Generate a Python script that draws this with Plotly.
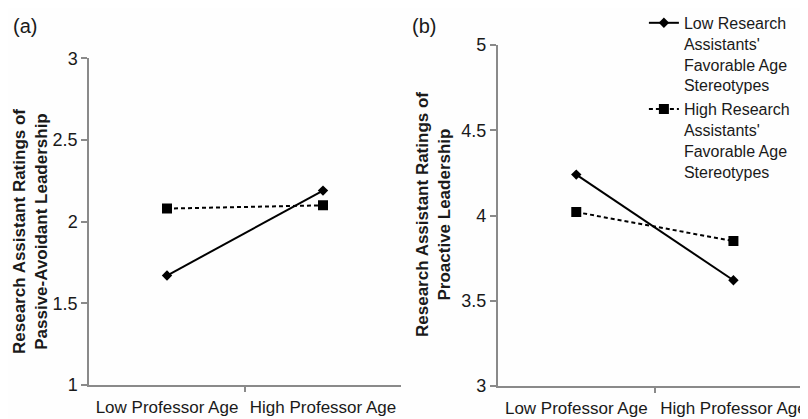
import plotly.graph_objects as go

categories = ["Low Professor Age", "High Professor Age"]
series_names = [
    "Low Research<br>Assistants'<br>Favorable Age<br>Stereotypes",
    "High Research<br>Assistants'<br>Favorable Age<br>Stereotypes",
]
passive_low = [1.67, 2.19]
passive_high = [2.08, 2.10]
proactive_low = [4.24, 3.62]
proactive_high = [4.02, 3.85]
y_ticks_a = [1, 1.5, 2, 2.5, 3]
y_ticks_b = [3, 3.5, 4, 4.5, 5]
category_boundary = [0.5]

W, H, OFF = 808, 419, 8  # page body margin offsets the figure by OFF px


def px(x):
    return (x - OFF) / W


def py(y):
    return 1 - (y - OFF) / H


FONT = "Liberation Sans, Arial, sans-serif"
AXIS_COLOR = "#8a8a8a"
TEXT_COLOR = "#1a1a1a"

solid = dict(color="black", width=2)
dashed = dict(color="black", width=2, dash="4px,3px")
diamond = dict(symbol="diamond", size=8, color="black")
square = dict(symbol="square", size=10, color="black")

fig = go.Figure()
fig.add_trace(go.Scatter(x=categories, y=passive_low, mode="lines+markers", line=solid,
                         marker=diamond, xaxis="x", yaxis="y", showlegend=False))
fig.add_trace(go.Scatter(x=categories, y=passive_high, mode="lines+markers", line=dashed,
                         marker=square, xaxis="x", yaxis="y", showlegend=False))
fig.add_trace(go.Scatter(x=categories, y=proactive_low, mode="lines+markers", line=solid,
                         marker=diamond, xaxis="x2", yaxis="y2", name=series_names[0]))
fig.add_trace(go.Scatter(x=categories, y=proactive_high, mode="lines+markers", line=dashed,
                         marker=square, xaxis="x2", yaxis="y2", name=series_names[1]))
# placeholder traces so the tick-only overlay axes get drawn
for xa, ya in (("x3", "y"), ("x4", "y2")):
    fig.add_trace(go.Scatter(x=category_boundary, y=[None], mode="markers",
                             xaxis=xa, yaxis=ya, showlegend=False, hoverinfo="skip"))

xcommon = dict(type="category", showline=True, linecolor=AXIS_COLOR, linewidth=1.5,
               ticks="", showgrid=False, zeroline=False,
               tickfont=dict(size=17, color=TEXT_COLOR),
               ticklabelstandoff=6, fixedrange=True, automargin=False)
# overlay axes that only draw the tick mark between the two categories
xtick = dict(type="linear", range=[-0.5, 1.5], tickvals=category_boundary,
             ticks="outside", ticklen=6, tickcolor=AXIS_COLOR, tickwidth=1.5,
             showticklabels=False, showline=False, showgrid=False, zeroline=False,
             automargin=False, fixedrange=True)
ycommon = dict(showline=True, linecolor=AXIS_COLOR, linewidth=1.5, ticks="outside",
               ticklen=6, tickcolor=AXIS_COLOR, tickwidth=1.5, showgrid=False,
               zeroline=False, tickfont=dict(size=18, color=TEXT_COLOR),
               ticklabelstandoff=0, automargin=False)

fig.update_layout(
    width=W, height=H,
    margin=dict(l=0, r=0, t=0, b=0, autoexpand=False),
    paper_bgcolor="#fefefe", plot_bgcolor="#fefefe",
    font=dict(family=FONT, color=TEXT_COLOR),
    xaxis=dict(domain=[px(89), px(401)], range=[-0.5, 1.5], anchor="y", **xcommon),
    yaxis=dict(domain=[py(385), py(58.3)], range=[1, 3], tickvals=y_ticks_a,
               ticktext=[f"{v:g}" for v in y_ticks_a], anchor="x", **ycommon),
    xaxis2=dict(domain=[px(497.7), px(812)], range=[-0.5, 1.5], anchor="y2", **xcommon),
    yaxis2=dict(domain=[py(386), py(45)], range=[3, 5], tickvals=y_ticks_b,
                ticktext=[f"{v:g}" for v in y_ticks_b], anchor="x2", **ycommon),
    xaxis3=dict(overlaying="x", anchor="y", **xtick),
    xaxis4=dict(overlaying="x2", anchor="y2", **xtick),
    legend=dict(x=0.787, y=1.005, xanchor="left", yanchor="top", valign="top",
                font=dict(size=16, color=TEXT_COLOR), bgcolor="rgba(0,0,0,0)",
                tracegroupgap=0),
    annotations=[
        dict(text="(a)", x=px(11), y=py(13), xref="paper", yref="paper",
             xanchor="left", yanchor="top", showarrow=False, font=dict(size=20)),
        dict(text="(b)", x=px(410), y=py(13), xref="paper", yref="paper",
             xanchor="left", yanchor="top", showarrow=False, font=dict(size=20)),
        dict(text="<b>Research Assistant Ratings of<br>Passive-Avoidant Leadership</b>",
             x=px(30), y=py(232), xref="paper", yref="paper", textangle=-90,
             xanchor="center", yanchor="middle", showarrow=False, font=dict(size=17)),
        dict(text="<b>Research Assistant Ratings of<br>Proactive Leadership</b>",
             x=px(434), y=py(215), xref="paper", yref="paper", textangle=-90,
             xanchor="center", yanchor="middle", showarrow=False, font=dict(size=17)),
    ],
)

fig.write_html("out.html")
